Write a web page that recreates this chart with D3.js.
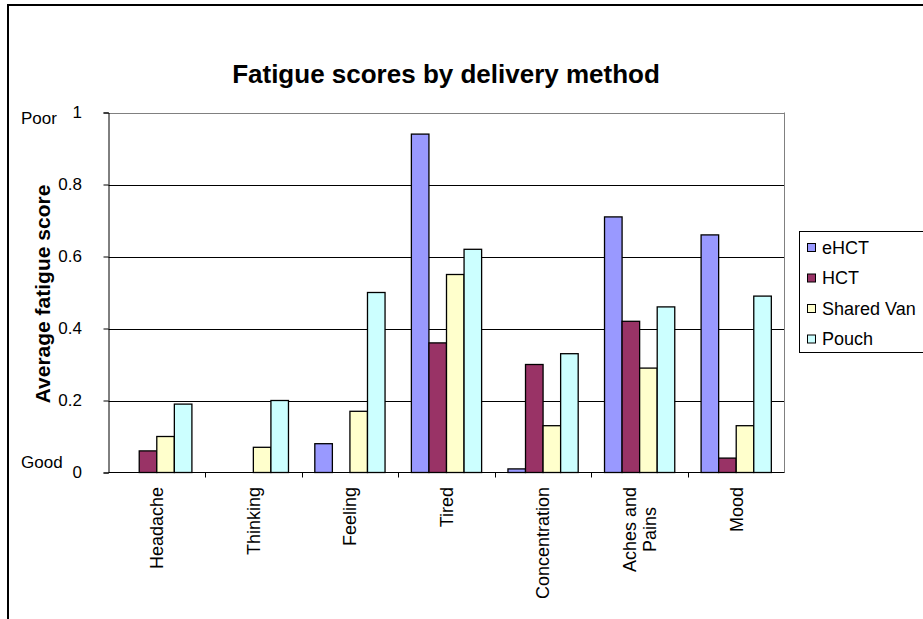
<!DOCTYPE html>
<html>
<head>
<meta charset="utf-8">
<script src="https://cdn.jsdelivr.net/npm/d3@7"></script>
<style>
  html, body { margin: 0; padding: 0; background: #fff; }
  svg { display: block; font-family: "Liberation Sans", Arial, sans-serif; }
</style>
</head>
<body>
<svg id="chart" width="923" height="619"></svg>
<script>
// Symptom categories along the x axis
const categories = ["Headache", "Thinking", "Feeling", "Tired", "Concentration", "Aches and Pains", "Mood"];
// Delivery methods (one bar per method in each category)
const seriesNames = ["eHCT", "HCT", "Shared Van", "Pouch"];
const eHCT      = [0.00, 0.00, 0.08, 0.94, 0.01, 0.71, 0.66];
const HCT       = [0.06, 0.00, 0.00, 0.36, 0.30, 0.42, 0.04];
const sharedVan = [0.10, 0.07, 0.17, 0.55, 0.13, 0.29, 0.13];
const pouch     = [0.19, 0.20, 0.50, 0.62, 0.33, 0.46, 0.49];
const yTicks = [0, 0.2, 0.4, 0.6, 0.8, 1];
const colors = ["#9999FF", "#993366", "#FFFFCC", "#CCFFFF"];

const seriesValues = [eHCT, HCT, sharedVan, pouch];

const svg = d3.select("#chart");

// Chart area border (extends past the right and bottom of the view)
svg.append("rect")
  .attr("x", 8).attr("y", 5)
  .attr("width", 960).attr("height", 660)
  .attr("fill", "#fff")
  .attr("stroke", "#000")
  .attr("stroke-width", 2);

const plot = { left: 108.5, right: 784.5, top: 112.5, bottom: 472.5 };

const x = d3.scaleBand()
  .domain(categories)
  .range([plot.left, plot.right])
  .paddingInner(0.2727)   // gap width 150% between groups
  .paddingOuter(0.1364);

const xSub = d3.scaleBand()
  .domain(seriesNames)
  .range([0, x.bandwidth()]);

const y = d3.scaleLinear().domain([0, 1]).range([plot.bottom, plot.top]);

// Horizontal gridlines
svg.append("g")
  .selectAll("line")
  .data(yTicks.filter(d => d > 0))
  .join("line")
  .attr("x1", plot.left).attr("x2", plot.right)
  .attr("y1", d => Math.round(y(d)) + 0.5)
  .attr("y2", d => Math.round(y(d)) + 0.5)
  .attr("stroke", d => d === 1 ? "#808080" : "#000")
  .attr("stroke-width", 1);

// Right edge of plot area
svg.append("line")
  .attr("x1", plot.right).attr("x2", plot.right)
  .attr("y1", plot.top).attr("y2", plot.bottom)
  .attr("stroke", "#808080");

// Bars
const groups = svg.append("g")
  .selectAll("g")
  .data(categories)
  .join("g")
  .attr("transform", d => `translate(${x(d)},0)`);

groups.selectAll("rect")
  .data((c, i) => seriesNames.map((s, j) => ({ s, v: seriesValues[j][i], color: colors[j] })).filter(d => d.v > 0))
  .join("rect")
  .attr("x", d => xSub(d.s))
  .attr("width", xSub.bandwidth())
  .attr("y", d => y(d.v))
  .attr("height", d => y(0) - y(d.v))
  .attr("fill", d => d.color)
  .attr("stroke", "#000")
  .attr("stroke-width", 1.3);

// Y axis: line and ticks from d3, right-aligned labels to the left
const yAxis = svg.append("g")
  .attr("transform", `translate(${plot.left},0)`)
  .call(d3.axisLeft(y).tickValues(yTicks).tickSize(5).tickFormat(""));
yAxis.select(".domain").attr("stroke", "#000");
yAxis.selectAll(".tick line").attr("stroke", "#000");
svg.append("g")
  .selectAll("text")
  .data(yTicks)
  .join("text")
  .attr("x", 82)
  .attr("y", d => y(d))
  .attr("dy", "0.35em")
  .attr("text-anchor", "end")
  .attr("font-size", 17)
  .text(d => d === 0 || d === 1 ? d3.format("d")(d) : d3.format(".1f")(d));

// X axis
const xTickPos = categories.slice(1).map((c, i) => plot.left + (i + 1) * (plot.right - plot.left) / categories.length);
svg.append("line")
  .attr("x1", plot.left).attr("x2", plot.right)
  .attr("y1", plot.bottom).attr("y2", plot.bottom)
  .attr("stroke", "#000");
svg.append("g")
  .selectAll("line")
  .data(xTickPos)
  .join("line")
  .attr("x1", d => Math.round(d) + 0.5).attr("x2", d => Math.round(d) + 0.5)
  .attr("y1", plot.bottom).attr("y2", plot.bottom + 5)
  .attr("stroke", "#000");

// Category labels, rotated; multi-word labels wrap onto two centred lines
const labelLines = { "Aches and Pains": ["Aches and", "Pains"] };
const labelTop = 487;
const labelSize = 18;
categories.forEach(c => {
  const lines = labelLines[c] || [c];
  const cx = x(c) + x.bandwidth() / 2;
  // measure the longest line so the block starts just below the axis
  const probe = svg.append("text").attr("font-size", labelSize)
    .text(lines.reduce((a, b) => a.length >= b.length ? a : b));
  const len = probe.node().getComputedTextLength();
  probe.remove();
  const midY = labelTop + len / 2;
  const lh = labelSize * 1.15;
  lines.forEach((ln, i) => {
    const dx = (i - (lines.length - 1) / 2) * lh;
    svg.append("text")
      .attr("transform", `translate(${cx + dx + labelSize * 0.35},${midY}) rotate(-90)`)
      .attr("text-anchor", "middle")
      .attr("font-size", labelSize)
      .attr("fill", "#000")
      .text(ln);
  });
});

// Title
svg.append("text")
  .attr("x", 446).attr("y", 83)
  .attr("text-anchor", "middle")
  .attr("font-size", 26)
  .attr("font-weight", "bold")
  .text("Fatigue scores by delivery method");

// Y axis title and end annotations
svg.append("text")
  .attr("transform", `translate(50,294) rotate(-90)`)
  .attr("text-anchor", "middle")
  .attr("font-size", 21)
  .attr("font-weight", "bold")
  .text("Average fatigue score");
svg.append("text").attr("x", 21).attr("y", 124).attr("font-size", 17).text("Poor");
svg.append("text").attr("x", 21).attr("y", 468).attr("font-size", 17).text("Good");

// Legend
const legend = svg.append("g");
legend.append("rect")
  .attr("x", 799.5).attr("y", 231.5)
  .attr("width", 200).attr("height", 121)
  .attr("fill", "#fff").attr("stroke", "#000");
const legendItems = legend.selectAll("g")
  .data(seriesNames)
  .join("g")
  .attr("transform", (d, i) => `translate(807,${247 + i * 30.5})`);
legendItems.append("rect")
  .attr("x", 0.5).attr("y", -3.5)
  .attr("width", 8).attr("height", 8)
  .attr("fill", (d, i) => colors[i])
  .attr("stroke", "#000");
legendItems.append("text")
  .attr("x", 15).attr("y", 6.5)
  .attr("font-size", 18)
  .text(d => d);
</script>
</body>
</html>
